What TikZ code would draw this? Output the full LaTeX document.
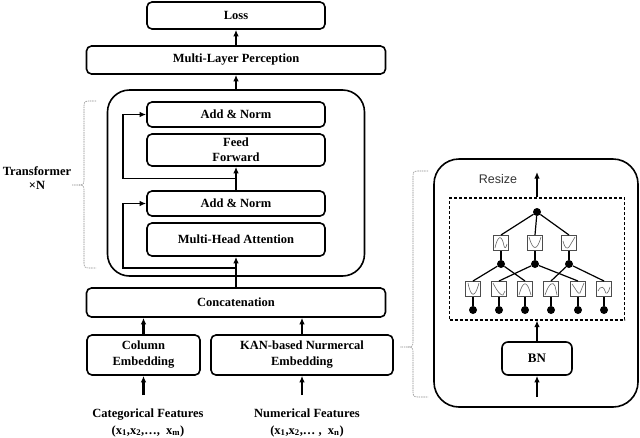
\documentclass[tikz,border=0pt]{standalone}
\usepackage{fontspec}
\setmainfont{Liberation Serif}
\newfontfamily\sansf{Liberation Sans}
\usetikzlibrary{arrows.meta,calc}
\begin{document}
\begin{tikzpicture}[x=1pt,y=-1pt,
  lbl/.style={font=\fontsize{12.5}{15}\selectfont\bfseries,align=center,inner sep=0pt},
  box/.style={lbl,draw,line width=1.6pt,rounded corners=5pt},
  arr/.style={line width=2.1pt,-{Latex[length=6.5pt,width=5.5pt]}},
  res/.style={line width=1.5pt,-{Latex[length=6.5pt,width=5.5pt]}},
  brc/.style={draw=black!45,line width=0.6pt,dash pattern=on 1.5pt off 0.8pt},
  dotn/.style={circle,fill=black,minimum size=8pt,inner sep=0pt},
  fbox/.style={draw=black!70,line width=1pt,minimum size=15pt,inner sep=0pt},
  wire/.style={line width=1.2pt},
  crv/.style={draw=black!60,line width=0.6pt}
]
\useasboundingbox (0,0) rectangle (640,437);

% ---------- left column ----------
\node[box,minimum width=178pt,minimum height=27pt] (loss) at (236,15.5) {Loss};
\node[box,minimum width=299pt,minimum height=28pt] (mlp) at (236,60) {Multi-Layer Perception};
\node[draw,line width=1.6pt,rounded corners=22pt,minimum width=257pt,minimum height=186pt,inner sep=0pt] (tr) at (236,183) {};
\node[box,minimum width=178pt,minimum height=25pt] (an1) at (236,114.5) {Add \& Norm};
\node[box,minimum width=178pt,minimum height=32pt] (ff) at (236,150) {Feed\\Forward};
\node[box,minimum width=178pt,minimum height=25pt] (an2) at (236,203.5) {Add \& Norm};
\node[box,minimum width=178pt,minimum height=33pt] (mha) at (236,239.5) {Multi-Head Attention};
\node[box,minimum width=299pt,minimum height=29pt] (concat) at (236,302.5) {Concatenation};
\node[box,minimum width=113pt,minimum height=40pt,font=\fontsize{12.5}{16}\selectfont\bfseries] (col) at (143.5,355) {Column\\Embedding};
\node[box,minimum width=182pt,minimum height=40pt,font=\fontsize{12.5}{16}\selectfont\bfseries] (kan) at (302,355) {KAN-based Nurmercal\\Embedding};
\node[lbl,font=\fontsize{12.5}{17}\selectfont\bfseries] (cat) at (148,422.5) {Categorical Features\\(x\textsubscript{1},x\textsubscript{2},\dots,~~x\textsubscript{m})};
\node[lbl,font=\fontsize{12.5}{17}\selectfont\bfseries] (num) at (307,422.5) {Numerical Features\\(x\textsubscript{1},x\textsubscript{2},\dots~,~~x\textsubscript{n})};
\node[lbl,font=\fontsize{12.5}{14}\selectfont\bfseries] (trn) at (37,178) {Transformer\\\texttimes N};

\draw[arr] (mlp.north) -- (loss.south);
\draw[arr] (tr.north) -- (mlp.south);
\draw[arr] (an2.north) -- (ff.south);
\coordinate (r1) at ($(an2.north)!0.5!(ff.south)$);
\draw[res] (r1) -- ++(-113,0) |- (an1.west);
\draw[arr] (concat.north) -- (mha.south);
\coordinate (r2) at ($(tr.south)+(0,-9)$);
\draw[res] (r2) -- ++(-113,0) |- (an2.west);
\draw[arr] (col.north) -- (col.north |- concat.south);
\draw[arr] (kan.north) -- (kan.north |- concat.south);
\coordinate (ci) at (143.5,395);
\coordinate (ni) at (302,395);
\draw[arr] (ci) -- (col.south);
\draw[arr] (ni) -- (kan.south);

% braces
\draw[brc] (96,101) -- (89,101) .. controls (85,101) and (84,102) .. (84,106) -- (84,180)
  .. controls (84,184) and (83,185) .. (79,185) -- (72,185);
\draw[brc] (79,185) .. controls (83,185) and (84,186) .. (84,190) -- (84,263)
  .. controls (84,267) and (85,268) .. (89,268) -- (96,268);
\draw[brc] (428,171) -- (418,171) .. controls (414,171) and (413,172) .. (413,176) -- (413,342)
  .. controls (413,346) and (412,347) .. (408,347) -- (400,347);
\draw[brc] (408,347) .. controls (412,347) and (413,348) .. (413,352) -- (413,392)
  .. controls (413,396) and (414,397) .. (418,397) -- (428,397);

% ---------- right panel ----------
\node[draw,line width=1.6pt,rounded corners=25pt,minimum width=204pt,minimum height=248pt,inner sep=0pt] (rp) at (536,283) {};
\node[draw,line width=1.1pt,dash pattern=on 3pt off 2pt,minimum width=175pt,minimum height=122pt,inner sep=0pt] (dsh) at (537,259) {};
\node[box,rounded corners=6pt,minimum width=70pt,minimum height=33pt,font=\fontsize{13}{15}\selectfont\bfseries] (bn) at (537,358.5) {BN};
\node[font=\fontsize{12.5}{15}\selectfont\sansf,text=black!80,inner sep=0pt] (rsz) at (498,179) {Resize};
\coordinate (bi) at (537,397);
\coordinate (ro) at (537,172);
\draw[arr] (bi) -- (bn.south);
\draw[arr] (bn.north) -- (bn.north |- dsh.south);
\draw[arr] (bn.north |- dsh.north) -- (ro);

% KAN network
\node[dotn] (t) at (537,212) {};
\foreach \i/\x in {1/501,2/535,3/569}{
  \node[fbox] (m\i) at (\x,243) {};
  \node[dotn] (d\i) at (\x,264) {};
  \draw[wire] (t) -- (m\i.north);
  \draw[wire] (m\i.south) -- (d\i);
}
\foreach \i/\x in {1/473,2/499,3/525,4/551,5/578,6/604}{
  \node[fbox] (b\i) at (\x,289) {};
  \node[dotn] (e\i) at (\x,310) {};
  \draw[wire] (b\i.south) -- (e\i);
}
\draw[wire] (d1) -- (b1.north); \draw[wire] (d1) -- (b3.north);
\draw[wire] (d2) -- (b2.north); \draw[wire] (d2) -- (b5.north);
\draw[wire] (d3) -- (b4.north); \draw[wire] (d3) -- (b6.north);

% curves inside boxes
\begin{scope}[shift={(m1)}]
  \draw[crv] (-6,5) .. controls (-3,-9) and (1,-8) .. (3,3) .. controls (4,6) and (5,5) .. (6,1);
\end{scope}
\begin{scope}[shift={(m2)}]
  \draw[crv] (-6,-6) .. controls (-2,8) and (2,8) .. (6,-6);
\end{scope}
\begin{scope}[shift={(m3)}]
  \draw[crv] (-6,-2) .. controls (-4,6) and (-2,6) .. (0,4) -- (6,-6);
\end{scope}
\begin{scope}[shift={(b1)}]
  \draw[crv] (-5,-6) .. controls (-2,9) and (2,9) .. (6,-6);
\end{scope}
\begin{scope}[shift={(b2)}]
  \draw[crv] (-6,-6) .. controls (-2,2) and (2,7) .. (4,6) -- (6,2);
\end{scope}
\begin{scope}[shift={(b3)}]
  \draw[crv] (-6,6) .. controls (-2,-9) and (2,-9) .. (6,6);
\end{scope}
\begin{scope}[shift={(b4)}]
  \draw[crv] (-6,6) .. controls (-2,-6) and (2,-8) .. (4,-3) -- (6,6);
\end{scope}
\begin{scope}[shift={(b5)}]
  \draw[crv] (-6,-5) .. controls (-2,0) and (0,6) .. (2,4) -- (6,-6);
\end{scope}
\begin{scope}[shift={(b6)}]
  \draw[crv] (-6,2) .. controls (-3,-4) and (0,-2) .. (1,2) .. controls (2,6) and (4,5) .. (6,-2);
\end{scope}
\end{tikzpicture}
\end{document}
